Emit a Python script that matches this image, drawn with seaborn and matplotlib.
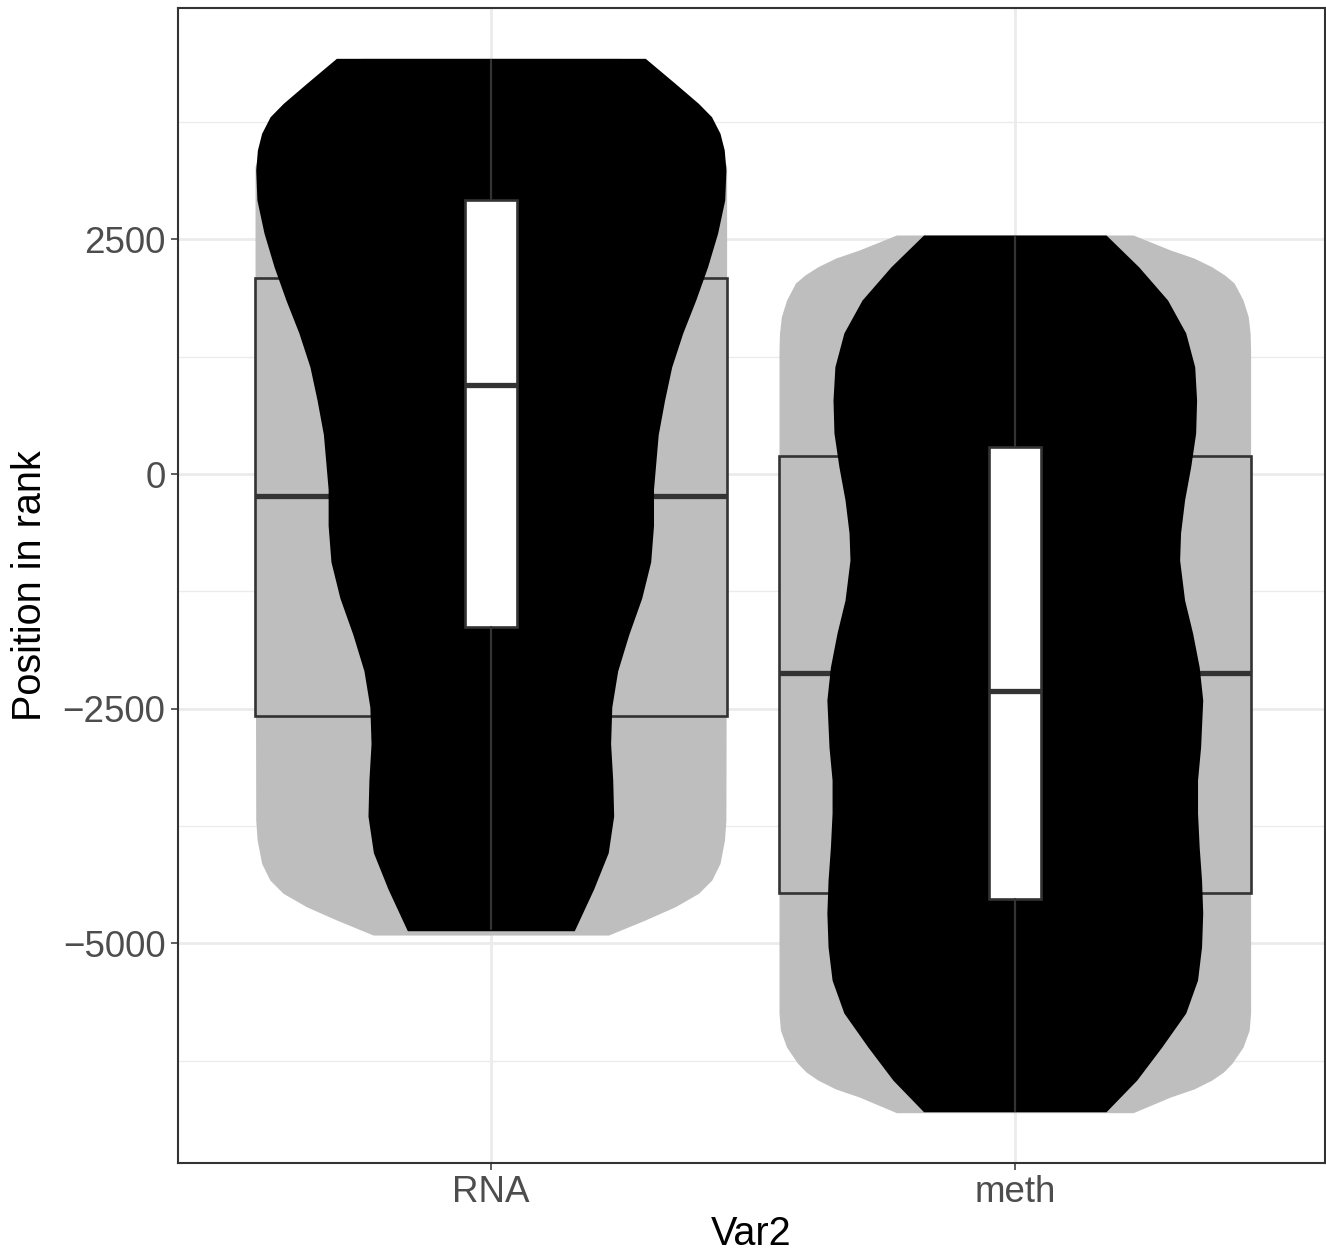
import numpy as np
import pandas as pd
import matplotlib
matplotlib.use("Agg")
import matplotlib.pyplot as plt
import seaborn as sns
from matplotlib.ticker import FixedLocator

# ---------------- data ----------------
categories = ["RNA", "meth"]

# Grey (outer) violins: value along y, relative half-width (1 = widest)
rna_grey_y = [4428, 3984, 3526, 3273, 2900, 0, -3685, -3899, -4147, -4325, -4466, -4609, -4751, -4911]
rna_grey_w = [0.55, 0.80, 0.97, 1.00, 1.00, 1.00, 0.997, 0.991, 0.972, 0.937, 0.881, 0.782, 0.654, 0.499]
meth_grey_y = [2546, 2386, 2300, 2208, 2120, 2035, 1853, 1676, 1500, 1321,
               -5741, -5923, -6104, -6274, -6370, -6456, -6550, -6636, -6803]
meth_grey_w = [0.502, 0.66, 0.76, 0.835, 0.89, 0.93, 0.968, 0.99, 0.998, 1.0,
               1.0, 0.994, 0.968, 0.922, 0.885, 0.835, 0.76, 0.66, 0.502]

# Black (inner) violins
rna_black_y = [4428, 4162, 3949, 3806, 3629, 3451, 3238, 2919, 2567, 2205, 1853, 1502, 1140, 788, 421,
               -160, -548, -935, -1321, -1710, -2097, -2482, -2871, -3259, -3643, -4033, -4421, -4865]
rna_black_w = [0.655, 0.781, 0.88, 0.936, 0.972, 0.99, 0.997, 0.992, 0.962, 0.919, 0.869, 0.814, 0.767, 0.737, 0.71,
               0.69, 0.69, 0.678, 0.64, 0.585, 0.538, 0.513, 0.508, 0.517, 0.521, 0.498, 0.436, 0.354]
meth_black_y = [2546, 2208, 1853, 1502, 1143, 788, 437, 78, -277, -628, -916, -1342, -1694, -2056, -2407,
                -2908, -3260, -3611, -3974, -4325, -4676, -5038, -5390, -5741, -6104, -6456, -6793]
meth_black_w = [0.387, 0.525, 0.648, 0.725, 0.763, 0.771, 0.767, 0.746, 0.72, 0.703, 0.699, 0.72, 0.754, 0.782, 0.797,
                0.788, 0.775, 0.775, 0.782, 0.792, 0.797, 0.792, 0.775, 0.725, 0.623, 0.517, 0.387]

# Wide (grey) boxplots: q1, median, q3
wide_q1 = [-2575, -4460]
wide_med = [-235, -2123]
wide_q3 = [2084, 192]

# Narrow (white) boxplots: whisker low, q1, median, q3, whisker high
narrow_lo = [-4847, -6782]
narrow_q1 = [-1632, -4524]
narrow_med = [948, -2311]
narrow_q3 = [2919, 291]
narrow_hi = [4410, 2528]

y_ticks = [-5000, -2500, 0, 2500]
y_minor = [-6250, -3750, -1250, 1250, 3750]

# ---------------- style ----------------
sns.set_theme(style="white")
plt.rcParams["font.family"] = ["Liberation Sans", "DejaVu Sans"]
plt.rcParams["axes.unicode_minus"] = True

W, H = 1326, 1255
fig = plt.figure(figsize=(W / 100, H / 100), dpi=100)
ax = fig.add_axes([178 / W, 1 - 1163 / H, (1325 - 178) / W, (1163 - 8) / H])

GREY = "#BEBEBE"
LINE = "#333333"
HALF = 0.45

def violin(pos, ys, ws, color, z):
    ys = np.asarray(ys, float)
    ws = np.asarray(ws, float) * HALF
    ax.fill_betweenx(ys, pos - ws, pos + ws, color=color, lw=0, zorder=z)

# grey violins
violin(0, rna_grey_y, rna_grey_w, GREY, 2)
violin(1, meth_grey_y, meth_grey_w, GREY, 2)

# wide boxes
wide_stats = [dict(med=m, q1=a, q3=b, whislo=a, whishi=b, fliers=[])
              for a, m, b in zip(wide_q1, wide_med, wide_q3)]
ax.bxp(wide_stats, positions=[0, 1], widths=0.9, patch_artist=True,
       showcaps=False, showfliers=False, manage_ticks=False,
       boxprops=dict(facecolor=GREY, edgecolor=LINE, linewidth=1.9),
       medianprops=dict(color=LINE, linewidth=3.8, solid_capstyle="butt"),
       whiskerprops=dict(color=LINE, linewidth=1.9), zorder=3)

# black violins
violin(0, rna_black_y, rna_black_w, "black", 4)
violin(1, meth_black_y, meth_black_w, "black", 4)

# narrow boxes
narrow_stats = [dict(med=m, q1=a, q3=b, whislo=lo, whishi=hi, fliers=[])
                for lo, a, m, b, hi in zip(narrow_lo, narrow_q1, narrow_med, narrow_q3, narrow_hi)]
ax.bxp(narrow_stats, positions=[0, 1], widths=0.1, patch_artist=True,
       showcaps=False, showfliers=False, manage_ticks=False,
       boxprops=dict(facecolor="white", edgecolor=LINE, linewidth=1.9),
       medianprops=dict(color=LINE, linewidth=3.8, solid_capstyle="butt"),
       whiskerprops=dict(color=LINE, linewidth=1.6), zorder=5)

# axes
ax.set_xlim(-0.597, 1.592)
ax.set_ylim(-7339, 4964)
ax.set_xticks([0, 1])
ax.set_xticklabels(categories)
ax.yaxis.set_major_locator(FixedLocator(y_ticks))
ax.yaxis.set_minor_locator(FixedLocator(y_minor))
ax.set_axisbelow(True)
ax.grid(which="major", color="#EBEBEB", linewidth=2.0, zorder=0)
ax.grid(which="minor", axis="y", color="#EBEBEB", linewidth=1.0, zorder=0)
ax.set_facecolor("white")
for s in ax.spines.values():
    s.set_color(LINE)
    s.set_linewidth(1.5)
    s.set_visible(True)

ax.tick_params(axis="both", which="major", length=5, width=1.1, color=LINE,
               labelsize=26.5, labelcolor="#4D4D4D", pad=4, bottom=True, left=True)
ax.tick_params(axis="both", which="minor", length=0)

ax.set_xlabel("Var2", fontsize=28.5, color="black", labelpad=3)
ax.set_ylabel("Position in rank", fontsize=28.5, color="black", labelpad=10)

fig.savefig("out.png", dpi=100)
